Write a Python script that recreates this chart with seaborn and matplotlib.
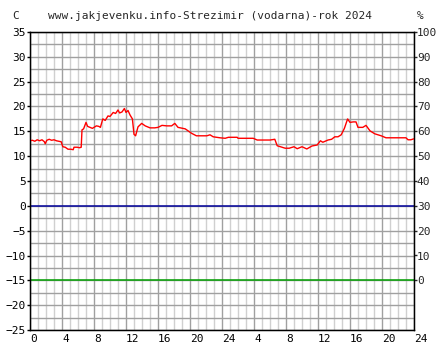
import matplotlib
matplotlib.use("Agg")
import matplotlib.pyplot as plt
import seaborn as sns
import pandas as pd
import numpy as np

# hours since start (48 h window) and temperature in C
hours = [0.0, 0.3, 0.6, 0.9, 1.2, 1.5, 1.8, 1.9, 2.1, 2.4, 2.7, 3.0, 3.3, 3.6, 3.9,
         4.1, 4.4, 4.75, 5.1, 5.4, 5.5, 5.9, 6.2, 6.4, 6.5, 6.7, 7.0, 7.2, 7.5, 7.8,
         8.0, 8.3, 8.6, 8.8, 9.1, 9.4, 9.75, 10.0, 10.4, 10.7, 11.0, 11.2, 11.5, 11.8,
         12.0, 12.25, 12.5, 12.8, 13.0, 13.2, 13.5, 13.96, 14.4, 15.0, 15.6, 16.0,
         16.5, 17.1, 17.7, 18.1, 18.5, 19.4, 20.2, 20.8, 21.5, 22.1, 22.5, 22.9,
         23.75, 24.4, 24.8, 25.9, 26.0, 27.9, 28.4, 30.0, 30.6, 30.9, 31.5, 31.9,
         32.4, 33.0, 33.4, 34.0, 34.6, 35.25, 35.9, 36.3, 36.6, 37.25, 37.7, 38.1,
         38.5, 38.9, 39.3, 39.7, 40.0, 40.4, 40.75, 41.0, 41.6, 42.0, 42.5, 43.1,
         43.9, 44.5, 45.5, 46.5, 47.0, 47.25, 47.6, 48.0]
temps = [13.1, 13.2, 13.0, 13.3, 13.1, 13.3, 12.9, 12.5, 13.2, 13.4, 13.2, 13.3, 13.1, 13.0, 12.9,
         11.9, 11.8, 11.4, 11.4, 11.3, 11.8, 11.8, 11.7, 11.8, 15.3, 15.5, 16.8, 16.0, 15.8, 15.6,
         15.8, 16.1, 16.0, 15.8, 17.5, 17.2, 18.1, 18.0, 18.8, 18.6, 19.3, 18.7, 18.9, 19.6,
         18.8, 19.2, 18.3, 17.5, 14.4, 14.1, 15.9, 16.6, 16.1, 15.7, 15.7, 15.8,
         16.2, 16.1, 16.1, 16.6, 15.8, 15.5, 14.6, 14.1, 14.1, 14.1, 14.3, 13.9,
         13.7, 13.6, 13.8, 13.8, 13.6, 13.6, 13.25, 13.25, 13.4, 12.1, 11.8, 11.6,
         11.6, 11.9, 11.5, 11.9, 11.45, 12.05, 12.25, 13.1, 12.8, 13.25, 13.4, 13.9,
         13.9, 14.3, 15.6, 17.5, 16.8, 16.9, 16.9, 15.8, 15.8, 16.2, 15.1, 14.5,
         14.1, 13.7, 13.7, 13.7, 13.7, 13.3, 13.3, 13.5]

x_tick_pos = list(range(0, 49, 4))
x_tick_labels = ["0", "4", "8", "12", "16", "20", "24", "4", "8", "12", "16", "20", "24"]
temp_ticks = list(range(-25, 36, 5))
hum_ticks = list(range(0, 101, 10))

df = pd.DataFrame({"hour": hours, "temp": temps})

sns.set_style("white")
plt.rcParams["font.family"] = ["DejaVu Sans Mono"]

fig = plt.figure(figsize=(4.44, 3.6), dpi=100)
ax = fig.add_axes([30 / 444, 30 / 360, 384 / 444, 298 / 360])

# grid
for h in range(0, 49):
    ax.axvline(h, color="#a0a0a0" if h % 4 == 0 else "#d0d0d0", lw=1, zorder=0)
for v in np.arange(-25, 35.1, 2.5):
    ax.axhline(v, color="#a0a0a0", lw=1, zorder=0)

ax.axhline(0, color="#00009a", lw=1.1, zorder=1)
ax.axhline(-15, color="#00a000", lw=1.1, zorder=1)

sns.lineplot(data=df, x="hour", y="temp", ax=ax, color="#ff0000", lw=1.0, zorder=3)

ax.set_xlim(0, 48)
ax.set_ylim(-25, 35)
ax.set_xticks(x_tick_pos)
ax.set_xticklabels(x_tick_labels)
ax.set_yticks(temp_ticks)
ax.set_xlabel("")
ax.set_ylabel("")
ax.tick_params(axis="both", labelsize=8, length=2, width=1, direction="out", pad=1,
               colors="black")
for lab in ax.get_xticklabels():
    lab.set_horizontalalignment("left")

for s in ax.spines.values():
    s.set_color("black")
    s.set_linewidth(1)

ax2 = ax.twinx()
ax2.set_ylim(-20, 100)
ax2.set_yticks(hum_ticks)
ax2.tick_params(axis="y", labelsize=8, length=2, width=1, pad=0)
for s in ax2.spines.values():
    s.set_color("black")

fig.text(12 / 444, 1 - 16 / 360, "C", fontsize=8, ha="left", va="center")
fig.text(210 / 444, 1 - 16 / 360, "www.jakjevenku.info-Strezimir (vodarna)-rok 2024",
         fontsize=8, ha="center", va="center")
fig.text(420 / 444, 1 - 16 / 360, "%", fontsize=8, ha="center", va="center")

fig.savefig("out.png", dpi=100, facecolor="white")
